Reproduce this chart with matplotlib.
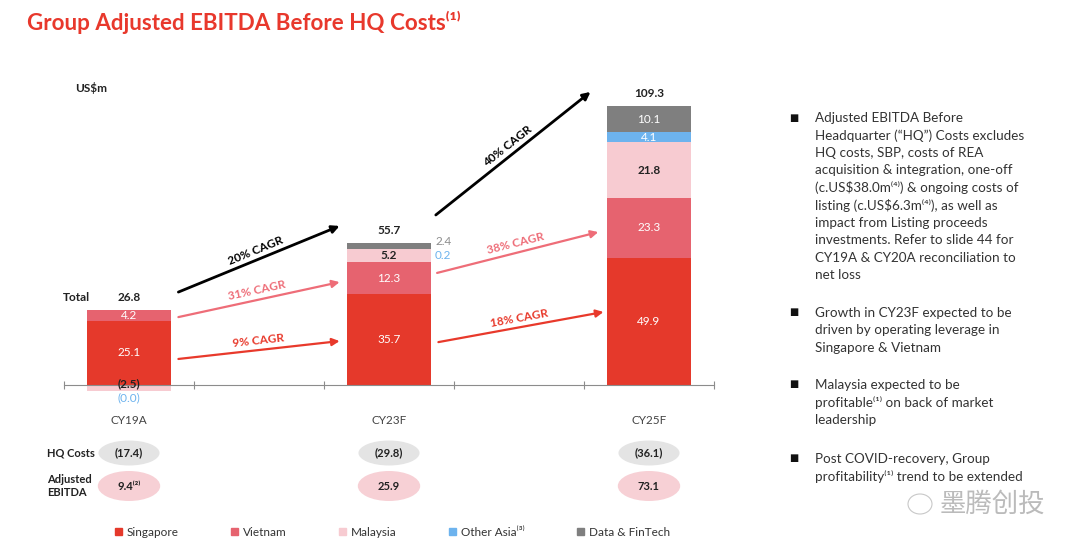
import math
import matplotlib.pyplot as plt
from matplotlib.patches import Ellipse, Rectangle
from matplotlib.transforms import Affine2D, blended_transform_factory, offset_copy

plt.rcParams['font.family'] = ['Lato', 'DejaVu Sans']

# data (US$m)
years = ['CY19A', 'CY23F', 'CY25F']
singapore = [25.1, 35.7, 49.9]
vietnam = [4.2, 12.3, 23.3]
malaysia = [-2.5, 5.2, 21.8]
other_asia = [0.0, 0.2, 4.1]
data_fintech = [0.0, 2.4, 10.1]
totals = [26.8, 55.7, 109.3]
hq_costs = ['(17.4)', '(29.8)', '(36.1)']
adj_ebitda = ['9.4⁽²⁾', '25.9', '73.1']

series = [('Singapore', singapore, '#e5392b'),
          ('Vietnam', vietnam, '#e6636f'),
          ('Malaysia', malaysia, '#f7cbd1'),
          ('Other Asia⁽³⁾', other_asia, '#6db3ee'),
          ('Data & FinTech', data_fintech, '#7f7f7f')]

# CAGR arrows: (start x, end x, start y, end y, label, colour)
cagr = [(0.19, 0.81, 36.4, 62.3, '20% CAGR', 'black'),
        (0.19, 0.81, 26.6, 40.3, '31% CAGR', '#ee6d78'),
        (0.19, 0.81, 10.2, 17.2, '9% CAGR', '#e8392b'),
        (1.18, 1.775, 66.6, 114.8, '40% CAGR', 'black'),
        (1.185, 1.805, 43.9, 59.9, '38% CAGR', '#ee6d78'),
        (1.19, 1.825, 16.8, 28.6, '18% CAGR', '#e8392b')]

W, H = 1080, 551
fig = plt.figure(figsize=(W / 100, H / 100), dpi=100)
px = Affine2D().scale(1 / W, -1 / H).translate(0, 1) + fig.transFigure

# chart axes: x -0.25..2.25 mapped to px 64..714, zero line at px 385
ax = fig.add_axes([64 / W, (H - 410) / H, 650 / W, 350 / H])
ax.set_xlim(-0.25, 2.25)
ax.set_ylim(-25 / 2.553, 325 / 2.553)
for s in ['top', 'right', 'left']:
    ax.spines[s].set_visible(False)
ax.spines['bottom'].set_position(('data', 0))
ax.spines['bottom'].set_color('#8c8c8c')
ax.set_xticks([-0.25, 0.25, 0.75, 1.25, 1.75, 2.25])
ax.set_xticklabels([])
ax.tick_params(axis='x', direction='inout', length=6, color='#8c8c8c')
ax.set_yticks([])

xs = range(len(years))
bw = 0.32
pos_bottom = [0.0] * 3
neg_bottom = [0.0] * 3
seg = {}
for name, vals, col in series:
    for i, v in enumerate(vals):
        if v >= 0:
            b = pos_bottom[i]
            pos_bottom[i] += v
        else:
            b = neg_bottom[i]
            neg_bottom[i] += v
        ax.bar(i, v, bw, bottom=b, color=col, edgecolor='none')
        seg[(name, i)] = (b, v)

def fmt(v):
    return '(%.1f)' % abs(v) if v <= 0 else '%.1f' % v

# dy in pixels, positive = down
def lab(i, y, txt, color, dx=0, dy=0, ha='center', weight='normal'):
    t = offset_copy(ax.transData, fig=fig, x=dx, y=-dy, units='dots')
    ax.text(i, y, txt, transform=t, ha=ha, va='center', fontsize=8.5,
            color=color, fontweight=weight)

for name, vals, col in series:
    for i, v in enumerate(vals):
        b, h = seg[(name, i)]
        mid = b + h / 2
        if name in ('Singapore', 'Vietnam'):
            lab(i, mid, fmt(v), 'white')
        elif name == 'Malaysia':
            if v < 0:
                lab(i, mid, fmt(v), '#222222', dy=-5, weight='bold')
            else:
                lab(i, mid, fmt(v), '#222222', weight='bold')
        elif name.startswith('Other'):
            if i == 0:
                lab(i, 0, fmt(v), '#6db3ee', dy=13)
            elif i == 1:
                lab(i, mid, fmt(v), '#6db3ee', dx=46, dy=7, ha='left')
            else:
                lab(i, mid, fmt(v), 'white')
        else:
            if i == 1:
                lab(i, mid, fmt(v), '#8c8c8c', dx=46, dy=-4.5, ha='left')
            elif i == 2:
                lab(i, mid, fmt(v), 'white')

for i, t in enumerate(totals):
    lab(i, pos_bottom[i], '%.1f' % t, '#222222', dy=-12.5, weight='bold')
    lab(i, 0, years[i], '#444444', dy=36)
lab(-0.204, pos_bottom[0], 'Total', '#222222', dy=-12.5, weight='bold')

# CAGR arrows
for x0, x1, y0, y1, txt, col in cagr:
    lw = 2.0 if col == 'black' else 1.6
    ax.annotate('', xy=(x1, y1), xytext=(x0, y0),
                arrowprops=dict(arrowstyle='-|>', color=col, lw=lw,
                                mutation_scale=11, shrinkA=0, shrinkB=0))
    p0 = ax.transData.transform((x0, y0))
    p1 = ax.transData.transform((x1, y1))
    ang = math.degrees(math.atan2(p1[1] - p0[1], p1[0] - p0[0]))
    mx, my = (p0 + p1) / 2
    off = 9
    nx, ny = -math.sin(math.radians(ang)) * off, math.cos(math.radians(ang)) * off
    fig.text(mx + nx, my + ny, txt, transform=None, rotation=ang,
             rotation_mode='anchor', ha='center', va='center', fontsize=8.5,
             color=col, fontweight='bold')

# HQ costs / adjusted EBITDA rows
bl = blended_transform_factory(ax.transData, px)
for i in xs:
    fig.patches.append(Ellipse((i, 453), 0.235, 25, transform=bl,
                               facecolor='#e4e4e4', edgecolor='none'))
    fig.patches.append(Ellipse((i, 486), 0.24, 30, transform=bl,
                               facecolor='#f7d0d5', edgecolor='none'))
    fig.text(i, 453, hq_costs[i], transform=bl, ha='center', va='center',
             fontsize=8, fontweight='bold', color='#222222')
    fig.text(i, 486, adj_ebitda[i], transform=bl, ha='center', va='center',
             fontsize=8, fontweight='bold', color='#222222')
fig.text(47, 453, 'HQ Costs', transform=px, ha='left', va='center',
         fontsize=8, fontweight='bold', color='#222222')
fig.text(47, 486, 'Adjusted\nEBITDA', transform=px, ha='left', va='center',
         fontsize=8, fontweight='bold', color='#222222', linespacing=1.3)

# title and unit
fig.text(27, 22, 'Group Adjusted EBITDA Before HQ Costs⁽¹⁾', transform=px,
         ha='left', va='center', fontsize=16.1, fontweight='bold', color='#e8382c')
fig.text(75, 88, 'US$m', transform=px, ha='left', va='center', fontsize=8.5,
         fontweight='bold', color='#222222', parse_math=False)

# legend
handles = [Rectangle((0, 0), 1, 1, color=c) for _, _, c in series]
leg = fig.legend(handles, [n for n, _, _ in series], ncol=5, frameon=False,
                 loc='center left', bbox_to_anchor=(104 / W, 1 - 532 / H),
                 fontsize=8.5, handlelength=0.6, handleheight=0.6,
                 handletextpad=0.4, columnspacing=4.45)
for t in leg.get_texts():
    t.set_color('#333333')

# commentary on the right
bullets = [
    ['Adjusted EBITDA Before', 'Headquarter (“HQ”) Costs excludes',
     'HQ costs, SBP, costs of REA', 'acquisition & integration, one-off',
     '(c.US$38.0m⁽⁴⁾) & ongoing costs of', 'listing (c.US$6.3m⁽⁴⁾), as well as',
     'impact from Listing proceeds', 'investments. Refer to slide 44 for',
     'CY19A & CY20A reconciliation to', 'net loss'],
    ['Growth in CY23F expected to be', 'driven by operating leverage in',
     'Singapore & Vietnam'],
    ['Malaysia expected to be', 'profitable⁽¹⁾ on back of market', 'leadership'],
    ['Post COVID-recovery, Group', 'profitability⁽¹⁾ trend to be extended'],
]
starts = [118, 313, 385, 459]
for lines, y0 in zip(bullets, starts):
    fig.text(789, y0, '■', transform=px, ha='left', va='center', fontsize=7,
             color='#111111')
    for k, line in enumerate(lines):
        fig.text(815, y0 + k * 17.45, line, transform=px, ha='left', va='center',
                 fontsize=9.7, color='#333333', parse_math=False)

# watermark
fig.text(940, 504, '墨腾创投', transform=px, ha='left', va='center', fontsize=19,
         color='#bbbbbb', family=['Noto Sans CJK SC', 'DejaVu Sans'])
fig.patches.append(Ellipse((920, 504), 24, 20, transform=px, facecolor='none',
                           edgecolor='#c8c8c8', lw=0.8))

fig.savefig('out.png', dpi=100)
